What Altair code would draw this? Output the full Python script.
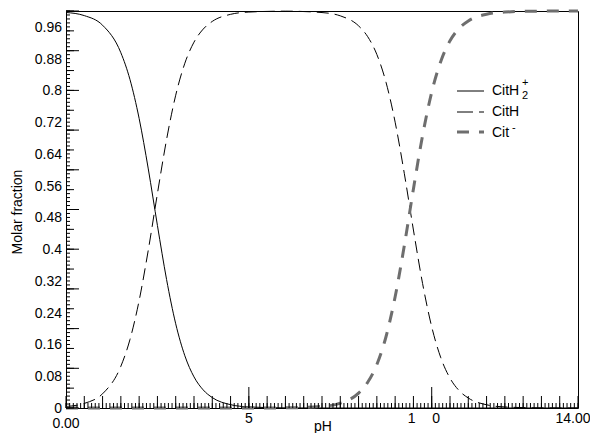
import altair as alt
import pandas as pd

# ---- data ----
ph_a = [0, 0.5, 1, 1.5, 1.75, 2, 2.25, 2.5, 2.75, 3, 3.25, 3.5, 3.75, 4, 4.5, 5, 6, 7, 8, 10, 12, 14]
cith2 = [0.9963, 0.9884, 0.9642, 0.8949, 0.8272, 0.7292, 0.6022, 0.4598, 0.3237, 0.2121, 0.1315,
         0.0784, 0.0457, 0.0262, 0.0084, 0.0027, 0.0003, 0, 0, 0, 0, 0]

ph_b = [0, 0.5, 1, 1.5, 1.75, 2, 2.25, 2.5, 2.75, 3, 3.25, 3.5, 3.75, 4, 4.5, 5, 6, 7, 7.5, 8, 8.25,
        8.5, 8.75, 9, 9.25, 9.5, 9.75, 10, 10.25, 10.5, 10.75, 11, 11.5, 12, 13, 14]
cith = [0.0037, 0.0116, 0.0358, 0.1051, 0.1728, 0.2708, 0.3978, 0.5402, 0.6763, 0.7879, 0.8685,
        0.9216, 0.9543, 0.9738, 0.9916, 0.9973, 0.9996, 0.9961, 0.9878, 0.9626, 0.9353, 0.8905,
        0.8205, 0.7199, 0.5911, 0.4483, 0.3137, 0.2045, 0.1263, 0.0752, 0.0437, 0.0251, 0.0081,
        0.0026, 0.0003, 0.0]

ph_c = [0, 1, 2, 3, 4, 5, 6, 7, 7.5, 8, 8.25, 8.5, 8.75, 9, 9.25, 9.5, 9.75, 10, 10.25, 10.5,
        10.75, 11, 11.5, 12, 13, 14]
cit = [0, 0, 0, 0, 0, 0, 0.0004, 0.0039, 0.0122, 0.0375, 0.0647, 0.1095, 0.1795, 0.2801, 0.4087,
       0.5517, 0.6863, 0.7955, 0.8737, 0.9248, 0.9563, 0.9749, 0.9919, 0.9974, 0.9997, 1.0]

y_label_vals = [0, 0.08, 0.16, 0.24, 0.32, 0.4, 0.48, 0.56, 0.64, 0.72, 0.8, 0.88, 0.96]
y_label_text = ["0", "0.08", "0.16", "0.24", "0.32", "0.4", "0.48", "0.56", "0.64", "0.72", "0.8", "0.88", "0.96"]

x_label_vals = [5, 9.45, 10.12]
x_label_text = ["5", "1", "0"]
x_first_label = "0.00"
x_last_label = "14.00"

x_small = [round(i * 0.1, 2) for i in range(0, 141)]
x_medium = [round(i * 0.5, 2) for i in range(0, 29)]
x_big = [5, 10]
y_small = [round(i * 0.01, 3) for i in range(0, 101)]
y_medium = [round(i * 0.05, 3) for i in range(0, 21)]
y_big = [round(i * 0.1, 2) for i in range(0, 11)]

W, H = 512, 397
FONT = "Liberation Sans"

xs = alt.Scale(domain=[0, 14], nice=False, zero=False)
ys = alt.Scale(domain=[0, 1], nice=False, zero=False)


def X(f="x"):
    return alt.X(f, type="quantitative", scale=xs, axis=None)


def Y(f="y"):
    return alt.Y(f, type="quantitative", scale=ys, axis=None)


def curve(ph, vals, **style):
    df = pd.DataFrame({"x": ph, "y": vals})
    return alt.Chart(df).mark_line(interpolate="monotone", **style).encode(x=X(), y=Y())


c1 = curve(ph_a, cith2, color="black", strokeWidth=1)
c2 = curve(ph_b, cith, color="black", strokeWidth=1, strokeDash=[12, 6])
c3 = curve(ph_c, cit, color="#6e6e6e", strokeWidth=3, strokeDash=[12, 10])


def xticks(vals, length):
    return alt.Chart(pd.DataFrame({"x": vals})).mark_rule(color="black", strokeWidth=1).encode(
        x=X(), y=alt.value(H), y2=alt.value(H - length))


def yticks(vals, length):
    return alt.Chart(pd.DataFrame({"y": vals})).mark_rule(color="black", strokeWidth=1).encode(
        y=Y(), x=alt.value(0), x2=alt.value(length))


ticks = [xticks(x_small, 5), xticks(x_medium, 12), xticks(x_big, 21),
         yticks(y_small, 4), yticks(y_medium, 8), yticks(y_big, 13)]

ylab = alt.Chart(pd.DataFrame({"y": y_label_vals, "t": y_label_text})).mark_text(
    align="right", baseline="middle", font=FONT, fontSize=14, dy=1, color="black").encode(
    y=Y(), x=alt.value(-4), text="t:N")

xlab = alt.Chart(pd.DataFrame({"x": x_label_vals, "t": x_label_text})).mark_text(
    align="center", baseline="middle", font=FONT, fontSize=14, color="black").encode(
    x=X(), y=alt.value(H + 11), text="t:N")

xlab0 = alt.Chart(pd.DataFrame({"x": [0], "t": [x_first_label]})).mark_text(
    align="center", baseline="middle", font=FONT, fontSize=14, color="black").encode(
    x=X(), y=alt.value(H + 16), text="t:N")

xlab14 = alt.Chart(pd.DataFrame({"x": [14], "t": [x_last_label]})).mark_text(
    align="center", baseline="middle", font=FONT, fontSize=14, color="black", dx=-5).encode(
    x=X(), y=alt.value(H + 11), text="t:N")

one = alt.Data(values=[{"a": 1}])


def txt(s, x, y, size=14, angle=0, align="left"):
    return alt.Chart(one).mark_text(align=align, baseline="middle", font=FONT, fontSize=size,
                                    angle=angle, color="black").encode(
        x=alt.value(x), y=alt.value(y), text=alt.value(s))


def legline(y, **style):
    return alt.Chart(one).mark_rule(**style).encode(
        x=alt.value(391), x2=alt.value(418), y=alt.value(y))


titles = [
    txt("pH", 257, H + 19, align="center"),
    txt("Molar fraction", -48, 201, angle=270, align="center"),
]

legend = [
    legline(80, color="black", strokeWidth=1),
    legline(101, color="black", strokeWidth=1, strokeDash=[16, 6]),
    legline(121, color="#6e6e6e", strokeWidth=3, strokeDash=[12, 10]),
    txt("CitH", 426, 80),
    txt("2", 456, 85, size=11),
    txt("+", 456, 72, size=11),
    txt("CitH", 426, 101),
    txt("Cit", 426, 122),
    txt("-", 446, 117, size=11),
]

chart = alt.layer(c1, c2, c3, *ticks, ylab, xlab, xlab0, xlab14, *titles, *legend).properties(
    width=W, height=H,
    autosize="none",
    padding={"left": 58, "top": 3, "right": 12, "bottom": 25},
    background="white",
).configure_view(stroke="black", strokeWidth=1)

chart.save("out.html", embed_options={"renderer": "svg", "actions": False})
